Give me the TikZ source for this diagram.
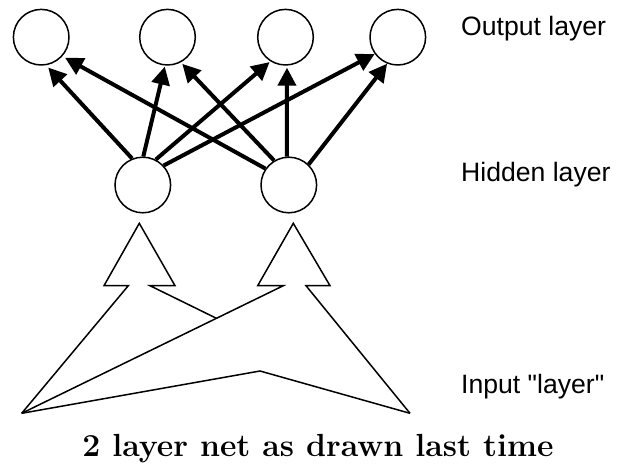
\documentclass[tikz,border=0pt]{standalone}
\usepackage{fontspec}
\newfontfamily\labelfont{Liberation Sans}
\usetikzlibrary{arrows.meta,calc}
\begin{document}
\begin{tikzpicture}[x=1pt,y=1pt,
  unit/.style={circle,draw,line width=1.5pt,minimum size=55.6pt,inner sep=0pt},
  conn/.style={line width=4pt,-{Triangle[length=18pt,width=18pt]}},
  wire/.style={line width=1.5pt,line join=miter},
  lbl/.style={font=\labelfont\fontsize{26.6}{30}\selectfont,anchor=base west,inner sep=0pt},
  captiontext/.style={font=\bfseries\fontsize{32}{38}\selectfont,anchor=base,inner sep=0pt}]
\useasboundingbox (0,0) rectangle (618,466);
% output layer
\node[unit] (o1) at (41.2,428.8) {};
\node[unit] (o2) at (167.5,428.8) {};
\node[unit] (o3) at (285.5,428.8) {};
\node[unit] (o4) at (397.8,428.8) {};
% hidden layer
\node[unit] (h1) at (142.8,281) {};
\node[unit] (h2) at (288.8,281) {};
% connections hidden -> output
\draw[conn,shorten >=3pt] (h1.112) -- (o1.-80);
\draw[conn,shorten >=1pt] (h1.89) -- (o2.-95);
\draw[conn,shorten >=1pt] (h1.63) -- (o3.-122);
\draw[conn] (h1.43) -- (o4.-144);
\draw[conn,shorten >=3pt] (h2.145) -- (o1.-42);
\draw[conn,shorten >=2pt] (h2.121) -- (o2.-62);
\draw[conn,shorten >=2pt] (h2.94) -- (o3.-87);
\draw[conn] (h2.46) -- (o4.-112);
% input part
\coordinate (in1) at (21.7,52.7);
\coordinate (in2) at (410,52.7);
\coordinate (bend) at (260,95);
\coordinate (a1) at (139.3,242.7);
\coordinate (a1bl) at (104,180.3);
\coordinate (a1nl) at (128.3,180.3);
\coordinate (a1nr) at (150,180.3);
\coordinate (a1br) at (175,180.3);
\coordinate (a2) at (293.3,242.7);
\coordinate (a2bl) at (257.7,180.3);
\coordinate (a2nl) at (283.3,180.3);
\coordinate (a2nr) at (306,180.3);
\coordinate (a2br) at (330,180.3);
\coordinate (xc) at (intersection of a1nr--in2 and in1--a2nl);
\draw[wire] (in1) -- (a1nl) -- (a1bl) -- (a1) -- (a1br) -- (a1nr) -- (xc);
\draw[wire] (in1) -- (a2nl) -- (a2bl) -- (a2) -- (a2br) -- (a2nr) -- (in2);
\draw[wire] (in1) -- (bend) -- (in2);
% labels
\node[lbl] (tout) at (461,430) {Output layer};
\node[lbl] (thid) at (461,284) {Hidden layer};
\node[lbl] (tin) at (461,73) {Input "layer"};
\node[captiontext] (title) at (318,10) {2 layer net as drawn last time};
\end{tikzpicture}
\end{document}
